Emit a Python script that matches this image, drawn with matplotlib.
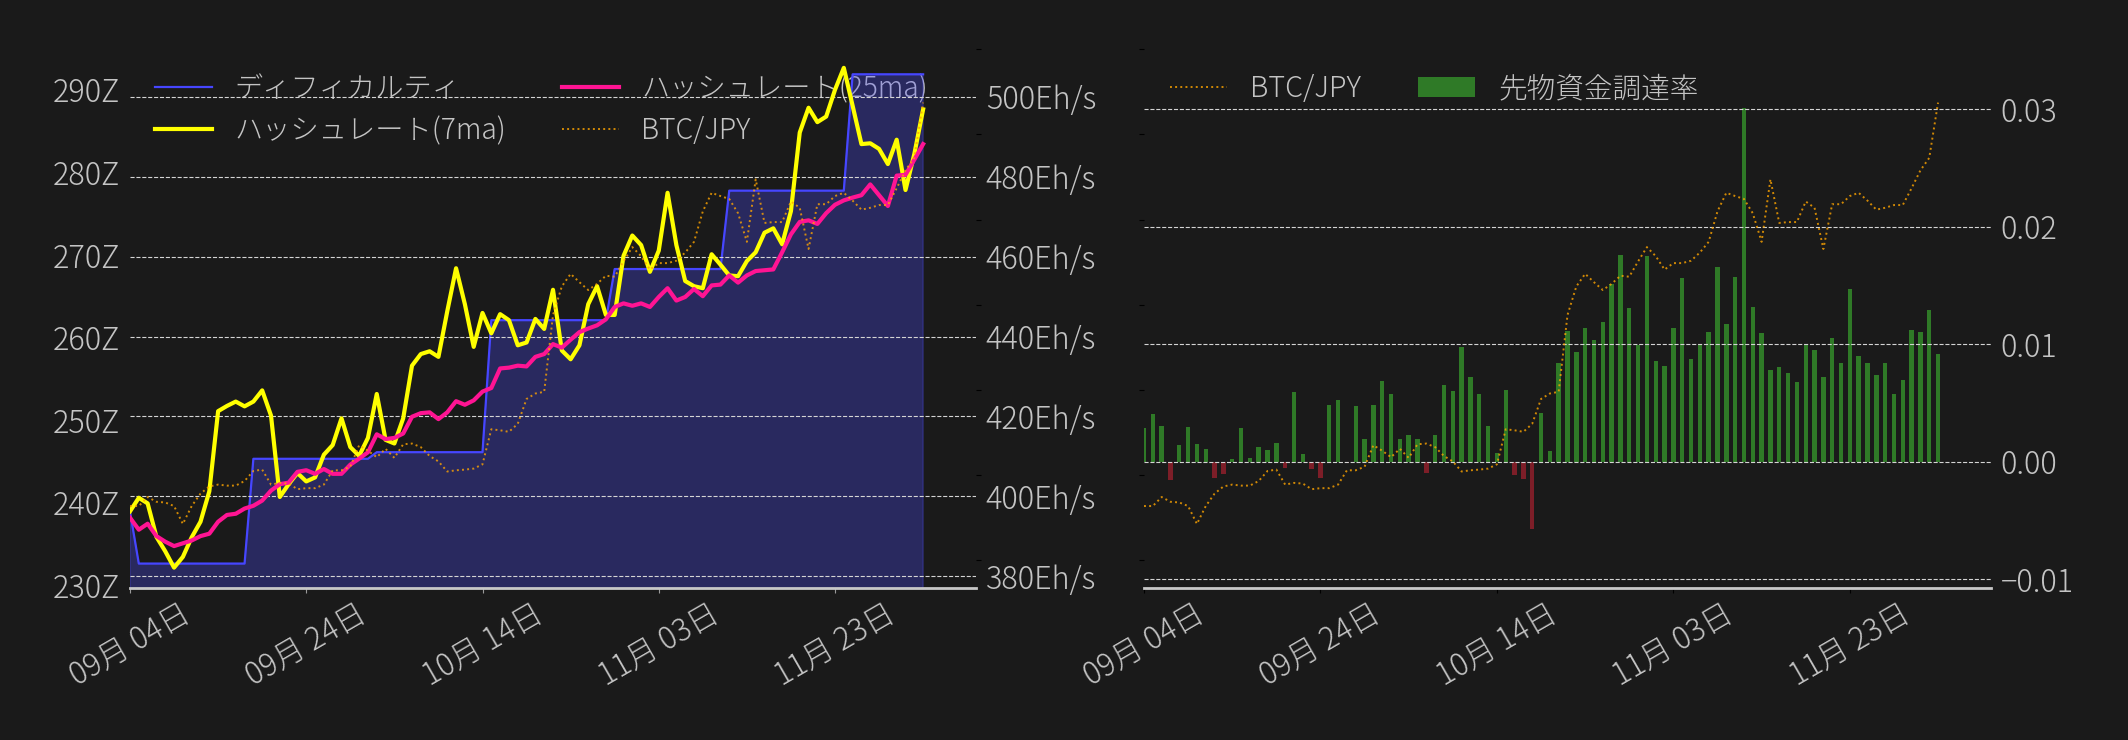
import matplotlib
matplotlib.use('Agg')
import matplotlib.pyplot as plt
import matplotlib.dates as mdates
import matplotlib.ticker as mticker
import pandas as pd

plt.rcParams['font.family'] = ['Noto Sans CJK JP', 'DejaVu Sans']
plt.rcParams['font.size'] = 21
plt.rcParams['font.weight'] = 'light'
plt.rcParams['axes.unicode_minus'] = True

# ---------------- data ----------------
start_date = '2023-09-04'
n_days = 91

difficulty_z = [
    238.9, 232.6, 232.6, 232.6, 232.6, 232.6, 232.6, 232.6, 232.6, 232.6,
    232.6, 232.6, 232.6, 232.6, 245.3, 245.3, 245.3, 245.3, 245.3, 245.3,
    245.3, 245.3, 245.3, 245.3, 245.3, 245.3, 245.3, 245.3, 246.1, 246.1,
    246.1, 246.1, 246.1, 246.1, 246.1, 246.1, 246.1, 246.1, 246.1, 246.1,
    246.1, 262.1, 262.1, 262.1, 262.1, 262.1, 262.1, 262.1, 262.1, 262.1,
    262.1, 262.1, 262.1, 262.1, 262.1, 268.3, 268.3, 268.3, 268.3, 268.3,
    268.3, 268.3, 268.3, 268.3, 268.3, 268.3, 268.3, 268.3, 277.8, 277.8,
    277.8, 277.8, 277.8, 277.8, 277.8, 277.8, 277.8, 277.8, 277.8, 277.8,
    277.8, 277.8, 291.9, 291.9, 291.9, 291.9, 291.9, 291.9, 291.9, 291.9,
    291.9]

hashrate_7ma = [
    396.2, 399.6, 398.2, 389.8, 386.2, 382.1, 384.8, 389.7, 393.6, 401.2,
    421.3, 422.6, 423.7, 422.5, 423.7, 426.5, 420.2, 399.8, 403.0, 405.8,
    403.7, 404.7, 410.4, 412.8, 419.5, 412.3, 410.1, 414.6, 425.6, 414.1,
    413.2, 419.5, 432.7, 435.6, 436.3, 434.9, 446.3, 457.1, 448.1, 437.4,
    445.9, 440.8, 445.6, 444.1, 437.8, 438.5, 444.4, 441.9, 451.7, 436.5,
    434.3, 437.8, 448.1, 452.6, 445.4, 445.4, 460.2, 465.3, 462.9, 456.2,
    461.5, 476.0, 462.9, 453.9, 452.6, 452.1, 460.6, 458.0, 455.3, 455.1,
    458.9, 461.1, 466.0, 467.1, 463.1, 471.4, 491.1, 497.3, 493.7, 495.1,
    501.8, 507.3, 497.8, 488.2, 488.4, 487.0, 483.2, 489.3, 476.7, 485.7,
    496.9]

hashrate_25ma = [
    394.6, 391.6, 393.1, 390.0, 388.6, 387.5, 388.2, 388.9, 390.0, 390.6,
    393.6, 395.3, 395.6, 396.9, 397.6, 398.9, 401.4, 403.0, 403.4, 406.1,
    406.5, 405.6, 406.8, 405.6, 405.6, 407.9, 409.4, 411.0, 415.5, 414.3,
    414.6, 415.7, 419.9, 420.8, 421.0, 419.3, 421.0, 423.8, 422.9, 424.0,
    426.2, 427.1, 432.0, 432.2, 432.7, 432.5, 434.9, 435.6, 438.1, 437.2,
    439.2, 441.1, 442.0, 442.8, 444.3, 447.4, 448.3, 447.7, 448.3, 447.4,
    449.9, 452.1, 449.0, 449.9, 451.9, 450.1, 452.8, 453.0, 455.3, 453.5,
    455.3, 456.4, 456.6, 456.8, 461.1, 465.6, 468.7, 469.1, 468.2, 470.9,
    473.0, 474.1, 474.8, 475.4, 478.1, 475.4, 472.7, 480.3, 480.5, 484.3,
    488.2]

btc_jpy = [
    3817000, 3817000, 3870000, 3842000, 3838000, 3817000, 3712000, 3817000, 3890000, 3932000,
    3943000, 3937000, 3937000, 3964000, 4023000, 4031000, 3943000, 3953000, 3949000, 3916000,
    3922000, 3922000, 3943000, 4027000, 4027000, 4048000, 4174000, 4142000, 4104000, 4153000,
    4100000, 4180000, 4184000, 4163000, 4111000, 4079000, 4020000, 4027000, 4031000, 4037000,
    4062000, 4268000, 4262000, 4253000, 4300000, 4446000, 4478000, 4488000, 4939000, 5107000,
    5181000, 5132000, 5086000, 5122000, 5170000, 5164000, 5254000, 5338000, 5285000, 5206000,
    5244000, 5244000, 5258000, 5306000, 5369000, 5548000, 5657000, 5638000, 5621000, 5537000,
    5369000, 5736000, 5480000, 5485000, 5485000, 5606000, 5569000, 5327000, 5590000, 5590000,
    5638000, 5657000, 5611000, 5558000, 5569000, 5585000, 5585000, 5684000, 5789000, 5862000,
    6187000]

funding_rate = [
    0.00283, 0.00404, 0.00301, -0.00158, 0.00140, 0.00292, 0.00149, 0.00106, -0.00137, -0.00106,
    0.00021, 0.00283, 0.00030, 0.00122, 0.00097, 0.00158, -0.00052, 0.00590, 0.00064, -0.00061,
    -0.00137, 0.00480, 0.00523, -0.00009, 0.00471, 0.00191, 0.00480, 0.00684, 0.00574, 0.00191,
    0.00225, 0.00191, -0.00097, 0.00225, 0.00650, 0.00599, 0.00973, 0.00717, 0.00574, 0.00301,
    0.00073, 0.00608, -0.00116, -0.00149, -0.00571, 0.00413, 0.00088, 0.00839, 0.01109, 0.00930,
    0.01137, 0.01033, 0.01185, 0.01511, 0.01757, 0.01307, 0.00997, 0.01748, 0.00854, 0.00812,
    0.01137, 0.01562, 0.00872, 0.00994, 0.01100, 0.01653, 0.01170, 0.01568, 0.03009, 0.01313,
    0.01094, 0.00778, 0.00802, 0.00754, 0.00675, 0.00997, 0.00948, 0.00717, 0.01052, 0.00839,
    0.01468, 0.00897, 0.00839, 0.00736, 0.00839, 0.00574, 0.00693, 0.01119, 0.01100, 0.01289,
    0.00915]

z_ticks = [230, 240, 250, 260, 270, 280, 290]
eh_ticks = [380, 400, 420, 440, 460, 480, 500]
btc_ticks = [3500000, 4000000, 4500000, 5000000, 5500000, 6000000, 6500000]
fr_ticks = [-0.01, 0.0, 0.01, 0.02, 0.03]

lbl_diff = 'ディフィカルティ'
lbl_h7 = 'ハッシュレート(7ma)'
lbl_h25 = 'ハッシュレート(25ma)'
lbl_btc = 'BTC/JPY'
lbl_fr = '先物資金調達率'

# ---------------- style ----------------
BG = '#1a1a1a'
TXT = '#c4c4c4'
GRID = '#d4d4d4'
SPINE = '#c8c8c8'
FS_TICK = 22
FS_LEG = 20.3

dates = pd.date_range(start_date, periods=n_days, freq='D')
x_end = dates[0] + pd.Timedelta(days=96)

fig = plt.figure(figsize=(21.28, 7.4), dpi=100, facecolor=BG)
W, H = 2128, 740
axL = fig.add_axes([130 / W, 152 / H, 846 / W, 540 / H])
axR = fig.add_axes([1144 / W, 152 / H, 847 / W, 540 / H])

def style_xaxis(ax, tickcolor):
    ax.set_xlim(dates[0], x_end)
    ax.set_xticks(dates[::20])
    ax.xaxis.set_major_formatter(mdates.DateFormatter('%m月 %d日'))
    ax.tick_params(axis='x', colors=tickcolor, labelcolor=TXT, labelsize=FS_TICK)
    for lab in ax.get_xticklabels():
        lab.set_rotation(30)
        lab.set_ha('center')
    for s in ['top', 'left', 'right']:
        ax.spines[s].set_visible(False)
    ax.spines['bottom'].set_color(SPINE)
    ax.spines['bottom'].set_linewidth(2)

# ---------------- left chart ----------------
axL.set_facecolor(BG)
axL.fill_between(dates, difficulty_z, 0, color='#4e4eff', alpha=0.3)
l_diff, = axL.plot(dates, difficulty_z, color='#4646ff', lw=1.6)
axL.set_ylim(229.64, 295.09)
axL.set_yticks(z_ticks)
axL.yaxis.set_major_formatter(mticker.FuncFormatter(lambda v, p: f'{v:.0f}Z'))
axL.tick_params(axis='y', length=0, pad=7, labelcolor=TXT, labelsize=FS_TICK)
style_xaxis(axL, '#9a9a9a')

axH = axL.twinx()
l_h7, = axH.plot(dates, hashrate_7ma, color='#ffff00', lw=3)
l_h25, = axH.plot(dates, hashrate_25ma, color='#ff1493', lw=3)
axH.set_ylim(377.0, 512.27)
axH.set_yticks(eh_ticks)
axH.yaxis.set_major_formatter(mticker.FuncFormatter(lambda v, p: f'{v:.0f}Eh/s'))
axH.tick_params(axis='y', length=0, pad=7, labelcolor=TXT, labelsize=FS_TICK)
axH.grid(axis='y', ls='--', lw=0.8, color=GRID)
for s in axH.spines.values():
    s.set_visible(False)

axB1 = axL.twinx()
l_btc, = axB1.plot(dates, btc_jpy, color='orange', alpha=0.8, lw=1.4, ls=':')
axB1.set_ylim(3335600, 6507600)
axB1.set_yticks(btc_ticks)
axB1.tick_params(axis='y', colors='black', labelright=False)
for s in axB1.spines.values():
    s.set_visible(False)

leg = axL.legend([l_diff, l_h7, l_h25, l_btc], [lbl_diff, lbl_h7, lbl_h25, lbl_btc],
                 ncol=2, loc='upper left', frameon=False, fontsize=FS_LEG, labelcolor=TXT,
                 labelspacing=0.42)
leg.set_zorder(0.5)

# ---------------- right chart ----------------
axR.set_facecolor(BG)
bar_colors = ['#2f7a27' if v >= 0 else '#7d1e28' for v in funding_rate]
bars = axR.bar(dates, funding_rate, width=0.5, color=bar_colors)
axR.set_ylim(-0.010766, 0.03522)
axR.set_yticks(fr_ticks)
axR.yaxis.set_major_formatter(mticker.FuncFormatter(
    lambda v, p: ('−' if v < -1e-12 else '') + f'{abs(v):.2f}'))
axR.grid(axis='y', ls='--', lw=0.8, color=GRID)
style_xaxis(axR, 'black')

axB2 = axR.twinx()
axR.yaxis.tick_right()
axR.yaxis.set_label_position('right')
axR.tick_params(axis='y', length=0, pad=7, labelcolor=TXT, labelsize=FS_TICK,
                left=False, labelleft=False, right=True, labelright=True)
l_btc2, = axB2.plot(dates, btc_jpy, color='orange', alpha=0.8, lw=1.4, ls=':')
axB2.yaxis.tick_left()
axB2.set_ylim(3335600, 6507600)
axB2.set_yticks(btc_ticks)
axB2.tick_params(axis='y', colors='black', labelleft=False, labelright=False)
for s in axB2.spines.values():
    s.set_visible(False)

axB2.legend([l_btc2, bars], [lbl_btc, lbl_fr], ncol=2, loc='upper left',
            frameon=False, fontsize=20.6, labelcolor=TXT)

fig.savefig('out.png', dpi=100, facecolor=BG)
